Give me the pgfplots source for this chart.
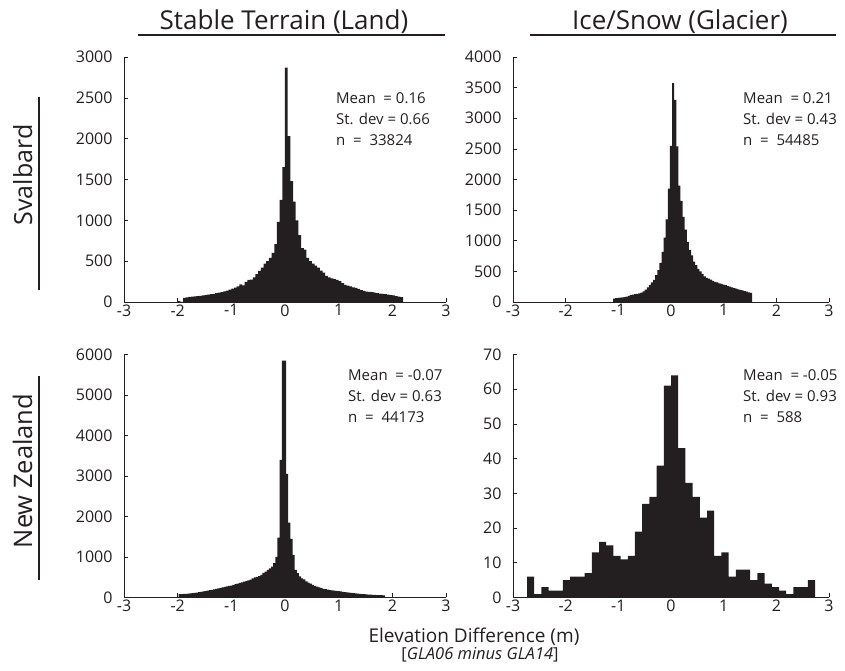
\documentclass[border=0pt]{standalone}
\usepackage{fontspec}
\setmainfont{Open Sans}
\usepackage{pgfplots}
\pgfplotsset{compat=1.18}
\definecolor{ink}{RGB}{35,31,32}

\newcommand\tickfont{\fontsize{16bp}{17bp}\selectfont}

\pgfplotsset{
  histo/.style={
    scale only axis,
    anchor=south west,
    xmin=-3, xmax=3, ymin=0,
    axis x line*=bottom, axis y line*=left,
    axis line style={ink, line width=0.6bp, -},
    every outer x axis line/.append style={-},
    every outer y axis line/.append style={-},
    every inner x axis line/.append style={-},
    every inner y axis line/.append style={-},
    tick align=inside,
    major tick length=4bp,
    tick style={ink, line width=0.6bp},
    xtick={-3,-2,...,3},
    scaled y ticks=false,
    /pgf/number format/assume math mode=true,
    /pgf/number format/set thousands separator={},
    every tick label/.append style={font=\tickfont, text=ink},
    xticklabel style={font=\tickfont, yshift=1bp},
    yticklabel style={font=\tickfont, xshift=-8bp},
    clip=false,
  },
  bars/.style={const plot, fill=ink, draw=none},
}

\newcommand\stat[1]{\fontsize{15bp}{17bp}\selectfont #1}

\begin{document}
\begin{tikzpicture}
\path[use as bounding box] (0,0) rectangle (845bp,671bp);

% Svalbard, stable terrain
\begin{axis}[histo, at={(124bp,369bp)}, width=322bp, height=245bp,
  ymax=3000, ytick={0,500,...,3000}]
\addplot[bars] coordinates {
(-2.00,12) (-1.95,0) (-1.90,50) (-1.85,58) (-1.80,62) (-1.75,65) (-1.70,68)
(-1.65,72) (-1.60,75) (-1.55,80) (-1.50,85) (-1.45,90) (-1.40,95) (-1.35,100)
(-1.30,110) (-1.25,115) (-1.20,120) (-1.15,130) (-1.10,140) (-1.05,150)
(-1.00,165) (-0.95,175) (-0.90,190) (-0.85,215) (-0.80,205) (-0.75,245)
(-0.70,270) (-0.65,275) (-0.60,300) (-0.55,340) (-0.50,380) (-0.45,420)
(-0.40,470) (-0.35,500) (-0.30,540) (-0.25,600) (-0.20,710) (-0.15,980)
(-0.10,1250) (-0.05,1650) (0.00,2870) (0.05,2030) (0.10,1480) (0.15,1230)
(0.20,1000) (0.25,820) (0.30,660) (0.35,640) (0.40,540) (0.45,500) (0.50,470)
(0.55,445) (0.60,420) (0.65,385) (0.70,360) (0.75,320) (0.80,300) (0.85,290)
(0.90,280) (0.95,270) (1.00,255) (1.05,230) (1.10,210) (1.15,200) (1.20,190)
(1.25,180) (1.30,172) (1.35,160) (1.40,145) (1.45,135) (1.50,128) (1.55,124)
(1.60,120) (1.65,115) (1.70,108) (1.75,103) (1.80,100) (1.85,95) (1.90,90)
(1.95,85) (2.00,80) (2.05,72) (2.10,65) (2.15,60) (2.20,60)
} \closedcycle;
\end{axis}

% Svalbard, ice/snow
\begin{axis}[histo, at={(513bp,369bp)}, width=316bp, height=245bp,
  ymax=4000, ytick={0,500,...,4000}]
\addplot[bars] coordinates {
(-1.10,55) (-1.06,62) (-1.02,68) (-0.98,70) (-0.94,75) (-0.90,80) (-0.86,88)
(-0.82,100) (-0.78,112) (-0.74,122) (-0.70,128) (-0.66,134) (-0.62,140)
(-0.58,155) (-0.54,175) (-0.50,200) (-0.46,240) (-0.42,280) (-0.38,320)
(-0.34,360) (-0.30,440) (-0.26,520) (-0.22,640) (-0.18,820) (-0.14,1050)
(-0.10,1350) (-0.06,1850) (-0.02,2550) (0.02,3575) (0.06,3300) (0.10,2540)
(0.14,1900) (0.18,1650) (0.22,1390) (0.26,1180) (0.30,980) (0.34,850)
(0.38,760) (0.42,660) (0.46,600) (0.50,540) (0.54,500) (0.58,460) (0.62,420)
(0.66,395) (0.70,380) (0.74,365) (0.78,345) (0.82,330) (0.86,320) (0.90,305)
(0.94,295) (0.98,285) (1.02,275) (1.06,265) (1.10,250) (1.14,240) (1.18,228)
(1.22,218) (1.26,208) (1.30,198) (1.34,188) (1.38,178) (1.42,168) (1.46,158)
(1.50,148) (1.54,148)
} \closedcycle;
\end{axis}

% New Zealand, stable terrain
\begin{axis}[histo, at={(124bp,73.5bp)}, width=322bp, height=243bp,
  ymax=6000, ytick={0,1000,...,6000}]
\addplot[bars] coordinates {
(-1.98,84) (-1.94,86) (-1.90,88) (-1.86,92) (-1.82,98) (-1.78,104) (-1.74,110)
(-1.70,115) (-1.66,122) (-1.62,130) (-1.58,140) (-1.54,150) (-1.50,160)
(-1.46,170) (-1.42,180) (-1.38,190) (-1.34,200) (-1.30,212) (-1.26,225)
(-1.22,240) (-1.18,252) (-1.14,262) (-1.10,275) (-1.06,285) (-1.02,295)
(-0.98,310) (-0.94,330) (-0.90,345) (-0.86,360) (-0.82,375) (-0.78,390)
(-0.74,405) (-0.70,420) (-0.66,440) (-0.62,470) (-0.58,495) (-0.54,510)
(-0.50,530) (-0.46,560) (-0.42,610) (-0.38,640) (-0.34,680) (-0.30,720)
(-0.26,760) (-0.22,850) (-0.18,1000) (-0.14,1480) (-0.10,3400) (-0.06,5850)
(-0.02,5850) (0.02,3050) (0.06,1850) (0.10,1450) (0.14,1050) (0.18,680)
(0.22,600) (0.26,520) (0.30,470) (0.34,450) (0.38,400) (0.42,370) (0.46,340)
(0.50,310) (0.54,290) (0.58,270) (0.62,250) (0.66,232) (0.70,215) (0.74,205)
(0.78,195) (0.82,185) (0.86,178) (0.90,170) (0.94,165) (0.98,160) (1.02,150)
(1.06,140) (1.10,130) (1.14,125) (1.18,120) (1.22,112) (1.26,105) (1.30,100)
(1.34,95) (1.38,90) (1.42,85) (1.46,82) (1.50,78) (1.54,74) (1.58,70)
(1.62,66) (1.66,62) (1.70,60) (1.74,58) (1.78,56) (1.82,54) (1.86,54)
} \closedcycle;
\end{axis}

% New Zealand, ice/snow
\begin{axis}[histo, at={(513bp,73.5bp)}, width=316bp, height=243bp,
  ymax=70, ytick={0,10,...,70}]
\addplot[bars] coordinates {
(-2.734,6) (-2.597,1) (-2.461,3) (-2.324,2) (-2.187,2) (-2.051,5) (-1.914,6)
(-1.777,6) (-1.640,7) (-1.504,13) (-1.367,16) (-1.230,15) (-1.094,12)
(-0.957,11) (-0.820,12) (-0.684,19) (-0.547,27) (-0.410,29) (-0.273,38)
(-0.137,61) (0.000,64) (0.137,43) (0.273,33) (0.410,29) (0.547,23) (0.684,25)
(0.820,12) (0.957,13) (1.094,6) (1.230,8) (1.367,8) (1.504,5) (1.640,7)
(1.777,4) (1.914,3) (2.051,2) (2.187,1) (2.324,3) (2.461,3) (2.597,5)
(2.734,5)
} \closedcycle;
\end{axis}

% summary statistics
\begin{scope}[every node/.style={anchor=base west, inner sep=0pt, text=ink}]
\node at (336bp,567bp) {\stat{Mean\ \ = 0.16}};
\node at (336bp,546bp) {\stat{St. dev = 0.66}};
\node at (336bp,525bp) {\stat{n\ \ =\ \ 33824}};
\node at (743bp,567bp) {\stat{Mean\ \ = 0.21}};
\node at (743bp,546bp) {\stat{St. dev = 0.43}};
\node at (743bp,525bp) {\stat{n\ \ =\ \ 54485}};
\node at (348bp,290bp) {\stat{Mean\ \ = -0.07}};
\node at (348bp,269bp) {\stat{St. dev = 0.63}};
\node at (348bp,248bp) {\stat{n\ \ =\ \ 44173}};
\node at (743bp,290bp) {\stat{Mean\ \ = -0.05}};
\node at (743bp,269bp) {\stat{St. dev = 0.93}};
\node at (743bp,248bp) {\stat{n\ \ =\ \ 588}};
\end{scope}

% column headings
\node[anchor=base, inner sep=0pt, text=ink, font=\fontsize{26bp}{30bp}\selectfont]
  at (284bp,641bp) {Stable Terrain (Land)};
\node[anchor=base, inner sep=0pt, text=ink, font=\fontsize{26bp}{30bp}\selectfont]
  at (680bp,641bp) {Ice/Snow (Glacier)};
\draw[ink, line width=1.6bp] (138bp,636bp) -- (445bp,636bp);
\draw[ink, line width=1.6bp] (530bp,636bp) -- (836bp,636bp);

% row headings
\node[anchor=base, rotate=90, inner sep=0pt, text=ink, font=\fontsize{25bp}{30bp}\selectfont]
  at (32bp,496bp) {Svalbard};
\node[anchor=base, rotate=90, inner sep=0pt, text=ink, font=\fontsize{25.5bp}{30bp}\selectfont]
  at (32bp,200bp) {New Zealand};
\draw[ink, line width=1.6bp] (39bp,574bp) -- (39bp,381bp);
\draw[ink, line width=1.6bp] (39bp,295bp) -- (39bp,91bp);

% common x label
\node[anchor=base, inner sep=0pt, text=ink, font=\fontsize{19bp}{21bp}\selectfont]
  at (474bp,29bp) {Elevation Difference (m)};
\node[anchor=base, inner sep=0pt, text=ink, font=\fontsize{16.5bp}{18bp}\selectfont]
  at (480bp,12bp) {[\textit{GLA06 minus GLA14}]};
\end{tikzpicture}
\end{document}
